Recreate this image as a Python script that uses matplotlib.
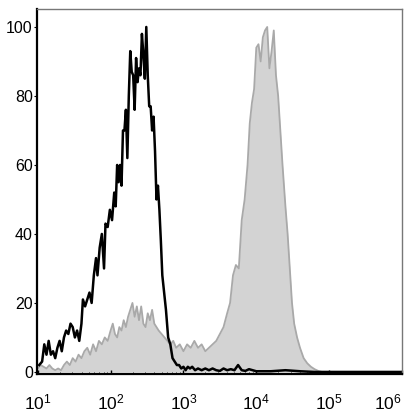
import numpy as np
import matplotlib
matplotlib.use("Agg")
import matplotlib.pyplot as plt

plt.rcParams['font.family'] = ['Liberation Sans', 'DejaVu Sans']

# ====== DATA (x in decades, log10 of intensity; y = % of max) ======
control_log = [1.02, 1.06, 1.09, 1.12, 1.15, 1.18, 1.21, 1.24, 1.27, 1.30,
               1.33, 1.36, 1.39, 1.42, 1.45, 1.48, 1.51, 1.54, 1.57, 1.60,
               1.62, 1.65, 1.68, 1.71, 1.74, 1.77, 1.80, 1.82, 1.85, 1.88,
               1.91, 1.93, 1.96, 1.99, 2.02, 2.05, 2.07, 2.09, 2.11, 2.13,
               2.15, 2.17, 2.19, 2.21, 2.23, 2.25, 2.27, 2.29, 2.31, 2.33,
               2.35, 2.37, 2.39, 2.41, 2.43, 2.45, 2.47, 2.49, 2.51, 2.53,
               2.55, 2.57, 2.59, 2.61, 2.63, 2.65, 2.67, 2.69, 2.71, 2.73,
               2.76, 2.79, 2.82, 2.85, 2.88, 2.91, 2.94, 2.97, 3.00, 3.03,
               3.06, 3.09, 3.12, 3.16, 3.20, 3.25, 3.30, 3.35, 3.40, 3.45,
               3.50, 3.55, 3.60, 3.65, 3.70, 3.75, 3.80, 3.85, 3.90, 4.00,
               4.20, 4.40, 4.60, 4.80, 5.00, 6.00]
control_pct = [2, 3, 8, 5, 9, 5, 6, 4, 7, 9,
               6, 10, 12, 11, 14, 13, 10, 12, 9, 14,
               21, 19, 21, 23, 20, 28, 33, 28, 36, 40,
               30, 43, 42, 47, 44, 52, 48, 60, 55, 60,
               54, 70, 70, 76, 62, 80, 93, 87, 86, 76,
               91, 84, 88, 86, 98, 92, 85, 100, 86, 77,
               77, 70, 74, 64, 50, 54, 47, 38, 28, 24,
               18, 10, 8, 4, 3, 2, 2, 1, 1.5, 0.5,
               1.5, 1, 1.5, 0.5, 1, 0.5, 1, 0.5, 1, 0.5,
               0.3, 1, 0.5, 0.8, 0.5, 2, 0.5, 0.3, 0.8, 0.2,
               0.2, 0.5, 0.2, 0, 0, 0]

stained_log = [1.00, 1.04, 1.08, 1.12, 1.16, 1.20, 1.24, 1.28, 1.32, 1.36,
               1.40, 1.44, 1.48, 1.52, 1.56, 1.60, 1.64, 1.68, 1.72, 1.76,
               1.80, 1.84, 1.88, 1.92, 1.96, 2.00, 2.03, 2.06, 2.09, 2.12,
               2.15, 2.18, 2.21, 2.24, 2.27, 2.30, 2.33, 2.36, 2.39, 2.42,
               2.45, 2.48, 2.51, 2.54, 2.57, 2.60, 2.63, 2.66, 2.70, 2.74,
               2.78, 2.82, 2.86, 2.90, 2.95, 3.00, 3.05, 3.10, 3.15, 3.20,
               3.25, 3.30, 3.35, 3.40, 3.45, 3.50, 3.55, 3.60, 3.64, 3.68,
               3.72, 3.76, 3.80, 3.84, 3.88, 3.91, 3.94, 3.97, 4.00, 4.03,
               4.06, 4.09, 4.12, 4.15, 4.18, 4.21, 4.24, 4.27, 4.30, 4.33,
               4.36, 4.40, 4.43, 4.46, 4.49, 4.52, 4.56, 4.60, 4.65, 4.70,
               4.75, 4.80, 4.85, 4.90, 6.00]
stained_pct = [1, 2, 1.5, 1, 2, 1, 0.5, 1, 0.5, 2,
               3, 2, 4, 3, 5, 4, 6, 7, 5, 8,
               6, 9, 8, 10, 9, 12, 14, 11, 10, 13,
               12, 15, 13, 16, 18, 20, 16, 19, 15, 19,
               14, 13, 17, 15, 18, 14, 13, 12, 11, 10,
               9, 8, 9, 7, 8, 6, 8, 7, 9, 7,
               8, 6, 7, 8, 9, 11, 13, 17, 20, 28,
               31, 30, 44, 50, 60, 72, 78, 82, 94, 95,
               90, 97, 99, 100, 88, 93, 99, 86, 80, 70,
               60, 48, 40, 30, 20, 14, 10, 7, 4, 2.5,
               1.5, 0.8, 0.3, 0, 0]

x_ticks = [1, 2, 3, 4, 5, 6]
y_ticks = [0, 20, 40, 60, 80, 100]

# ====== PLOT ======
fig = plt.figure(figsize=(4.14, 4.2), dpi=100)
ax = fig.add_axes([0.0894, 0.1095, 0.8816, 0.869])

xs = np.power(10.0, stained_log)
ax.fill_between(xs, stained_pct, 0, color="#d3d3d3", lw=0)
ax.plot(xs, stained_pct, color="#a9a9a9", lw=1.3)

xc = np.power(10.0, control_log)
ax.plot(xc, control_pct, color="black", lw=1.8)

ax.set_xscale("log")
ax.set_xlim(10 ** 0.99, 1e6)
ax.set_ylim(-0.6, 105.2)

ax.set_xticks([10.0 ** k for k in x_ticks])
ax.set_xticklabels([r"$\mathregular{10^{%d}}$" % k for k in x_ticks], fontsize=12.5)
ax.get_xticklabels()[-1].set_horizontalalignment("right")
ax.xaxis.set_minor_locator(matplotlib.ticker.LogLocator(base=10, subs=np.arange(2, 10)))
ax.xaxis.set_minor_formatter(matplotlib.ticker.NullFormatter())
ax.tick_params(axis="x", which="major", direction="in", length=3, pad=13, width=1)
ax.tick_params(axis="x", which="minor", direction="in", length=1.5, width=0.6)

ax.set_yticks(y_ticks)
ax.tick_params(axis="y", which="major", direction="out", length=2, pad=1, labelsize=11.5)

for side in ["left", "bottom"]:
    ax.spines[side].set_color("black")
    ax.spines[side].set_linewidth(1.6)
for side in ["top", "right"]:
    ax.spines[side].set_color("#777777")
    ax.spines[side].set_linewidth(1.0)

fig.savefig("out.png", dpi=100)
